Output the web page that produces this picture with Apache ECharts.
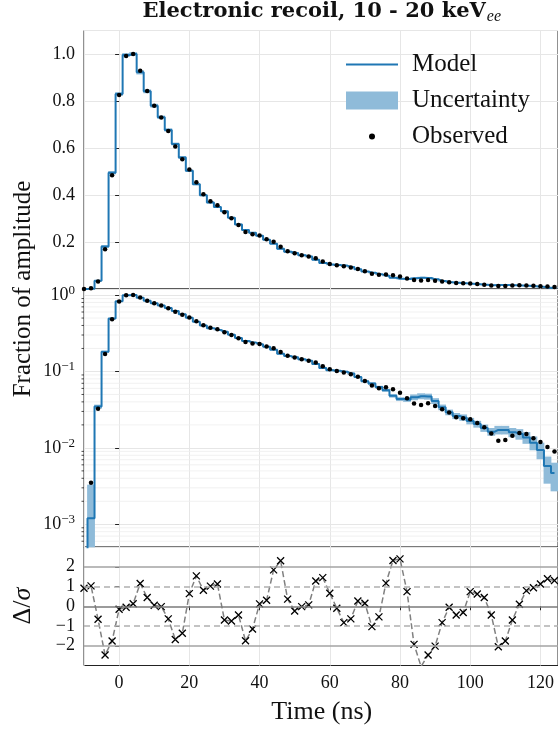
<!DOCTYPE html>
<html>
<head>
<meta charset="utf-8">
<script src="https://cdn.jsdelivr.net/npm/echarts@6/dist/echarts.min.js"></script>
<style>
  html, body { margin: 0; padding: 0; background: #fff; }
  #chart { width: 558px; height: 729px; }
</style>
</head>
<body>
<div id="chart"></div>
<script>
// Bin centres (ns); each bin is 2 ns wide
const binWidth = 2;
const times = [-10, -8, -6, -4, -2, 0, 2, 4, 6, 8, 10, 12, 14, 16, 18, 20, 22, 24, 26, 28,
  30, 32, 34, 36, 38, 40, 42, 44, 46, 48, 50, 52, 54, 56, 58, 60, 62, 64, 66, 68,
  70, 72, 74, 76, 78, 80, 82, 84, 86, 88, 90, 92, 94, 96, 98, 100, 102, 104, 106, 108,
  110, 112, 114, 116, 118, 120, 122, 124];

// Measured pulse shape (fraction of amplitude)
const observed = [0.0004, 0.0035, 0.0324, 0.169, 0.484, 0.826, 0.992, 1.0, 0.929, 0.843,
  0.780, 0.730, 0.672, 0.606, 0.552, 0.508, 0.454, 0.403, 0.373, 0.356,
  0.327, 0.301, 0.272, 0.243, 0.233, 0.228, 0.212, 0.201, 0.180, 0.161,
  0.152, 0.144, 0.1386, 0.1306, 0.117, 0.1067, 0.1015, 0.0966, 0.0918, 0.0855,
  0.0751, 0.0653, 0.0603, 0.0621, 0.0585, 0.0528, 0.0446, 0.038, 0.0365, 0.0384,
  0.0354, 0.032, 0.029, 0.0252, 0.0244, 0.0237, 0.0212, 0.0186, 0.0154, 0.0124,
  0.0127, 0.0144, 0.0157, 0.0152, 0.0134, 0.0119, 0.0103, 0.0090];

// Model prediction per bin
const model = [0.0002, 0.0012, 0.0347, 0.181, 0.495, 0.830, 0.996, 1.0, 0.922, 0.841,
  0.780, 0.731, 0.677, 0.617, 0.560, 0.503, 0.446, 0.399, 0.368, 0.349,
  0.331, 0.303, 0.275, 0.251, 0.239, 0.227, 0.210, 0.193, 0.171, 0.159,
  0.153, 0.144, 0.138, 0.125, 0.111, 0.104, 0.102, 0.0995, 0.094, 0.0845,
  0.0745, 0.0695, 0.0625, 0.0568, 0.0480, 0.0435, 0.0428, 0.0460, 0.0475, 0.0470,
  0.0410, 0.0340, 0.0292, 0.0262, 0.0250, 0.0225, 0.0205, 0.0182, 0.0163, 0.0172,
  0.0172, 0.0160, 0.0152, 0.0137, 0.0117, 0.0094, 0.0058, 0.0047];

// Model uncertainty band, lower and upper edge per bin
const bandLow = [0.00005, 0.0002, 0.0326, 0.1756, 0.488, 0.822, 0.988, 0.992, 0.913, 0.833,
  0.772, 0.724, 0.670, 0.611, 0.554, 0.498, 0.442, 0.395, 0.364, 0.345,
  0.328, 0.300, 0.272, 0.248, 0.236, 0.224, 0.208, 0.191, 0.167, 0.155,
  0.149, 0.140, 0.1345, 0.122, 0.108, 0.1013, 0.0994, 0.0970, 0.0915, 0.0822,
  0.0724, 0.0670, 0.0600, 0.0543, 0.0455, 0.0410, 0.0400, 0.0420, 0.0433, 0.0428,
  0.0375, 0.0311, 0.0267, 0.0238, 0.0226, 0.0203, 0.0184, 0.0162, 0.0144, 0.0150,
  0.0150, 0.0138, 0.0128, 0.0113, 0.0093, 0.0071, 0.0034, 0.0027];
const bandHigh = [0.0005, 0.0033, 0.0368, 0.1864, 0.502, 0.838, 1.004, 1.008, 0.931, 0.849,
  0.788, 0.738, 0.684, 0.623, 0.566, 0.508, 0.450, 0.403, 0.372, 0.353,
  0.334, 0.306, 0.278, 0.254, 0.242, 0.230, 0.212, 0.195, 0.175, 0.163,
  0.157, 0.148, 0.1415, 0.128, 0.114, 0.1067, 0.1046, 0.1020, 0.0965, 0.0868,
  0.0766, 0.0720, 0.0650, 0.0593, 0.0505, 0.0460, 0.0456, 0.0500, 0.0518, 0.0512,
  0.0447, 0.0369, 0.0317, 0.0286, 0.0274, 0.0247, 0.0226, 0.0202, 0.0182, 0.0194,
  0.0194, 0.0182, 0.0176, 0.0161, 0.0141, 0.0117, 0.0077, 0.0064];

// Normalised residuals (observed - model) / sigma
const residuals = [0.91, 1.03, -0.66, -2.47, -1.76, -0.15, -0.05, 0.13, 1.15, 0.44,
  0.05, -0.02, -0.64, -1.68, -1.37, 0.64, 1.54, 0.81, 1.02, 1.13,
  -0.70, -0.75, -0.44, -1.75, -1.15, 0.12, 0.30, 1.84, 2.30, 0.36,
  -0.24, -0.02, 0.07, 1.28, 1.45, 0.66, -0.10, -0.83, -0.64, 0.27,
  0.15, -1.03, -0.54, 1.17, 2.32, 2.40, 0.74, -1.93, -3.05, -2.47,
  -2.02, -0.83, -0.05, -0.44, -0.32, 0.74, 0.62, 0.44, -0.44, -2.05,
  -1.76, -0.70, 0.10, 0.79, 0.94, 1.13, 1.39, 1.30];

// Minor gridlines of the log panel
const logMinorLevels = [6e-4, 7e-4, 8e-4, 9e-4,
  2e-3, 3e-3, 4e-3, 5e-3, 6e-3, 7e-3, 8e-3, 9e-3,
  2e-2, 3e-2, 4e-2, 5e-2, 6e-2, 7e-2, 8e-2, 9e-2,
  0.2, 0.3, 0.4, 0.5, 0.6, 0.7, 0.8, 0.9];

// Reference levels in the residual panel
const sigmaSolid = [-2, 0, 2];
const sigmaDashed = [-1, 1];

const SERIF = '"Liberation Serif", "DejaVu Serif", serif';
const BLUE = '#1f77b4';
const BAND = '#8fbbd9';
const SPINE = '#222';
const GRID = '#e6e6e6';

const modelData = times.map((t, i) => [t, model[i]]);
const obsData = times.map((t, i) => [t, observed[i]]);
const bandData = times.map((t, i) => [t, bandLow[i], bandHigh[i]]);
const resData = times.map((t, i) => [t, residuals[i]]);

function bandRender(params, api) {
  const t = api.value(0);
  const p1 = api.coord([t - binWidth / 2, api.value(2)]);
  const p2 = api.coord([t + binWidth / 2, api.value(1)]);
  const cs = params.coordSys;
  const r = echarts.graphic.clipRectByRect(
    { x: p1[0] - 0.4, y: p1[1], width: p2[0] - p1[0] + 0.8, height: p2[1] - p1[1] },
    { x: cs.x, y: cs.y, width: cs.width, height: cs.height });
  if (!r) return null;
  return { type: 'rect', shape: r, style: { fill: BAND } };
}

function minorRender(params, api) {
  const y = api.coord([0, api.value(0)])[1];
  const cs = params.coordSys;
  return {
    type: 'group',
    children: [
      { type: 'line', shape: { x1: cs.x, y1: y, x2: cs.x + cs.width, y2: y },
        style: { stroke: '#ededed', lineWidth: 0.8 } },
      { type: 'line', shape: { x1: cs.x - 2.5, y1: y, x2: cs.x, y2: y },
        style: { stroke: SPINE, lineWidth: 0.8 } }
    ]
  };
}

const minus = v => String(v).replace('-', '\u2212');

const plotLeft = 84, plotWidth = 475.6;
const xBase = {
  type: 'value', min: -10, max: 125, splitNumber: 7,
  axisLine: { show: false },
  axisTick: { show: false },
  axisLabel: { show: false },
  splitLine: { show: true, lineStyle: { color: GRID, width: 1 } }
};
const yTick = { show: true, inside: false, length: 4, lineStyle: { color: SPINE, width: 1 } };
const tickFont = { fontFamily: SERIF, fontSize: 18, color: '#111' };

const chart = echarts.init(document.getElementById('chart'), null, { renderer: 'canvas' });
chart.setOption({
  animation: false,
  backgroundColor: '#fff',
  grid: [
    { left: plotLeft, top: 30.5, width: plotWidth, height: 258.5, show: true, borderColor: SPINE, borderWidth: 1, backgroundColor: 'transparent' },
    { left: plotLeft, top: 289, width: plotWidth, height: 258.3, show: true, borderColor: SPINE, borderWidth: 1, backgroundColor: 'transparent' },
    { left: plotLeft, top: 547, width: plotWidth, height: 118.5, show: true, borderColor: SPINE, borderWidth: 1, backgroundColor: 'transparent' }
  ],
  xAxis: [
    Object.assign({ gridIndex: 0 }, xBase),
    Object.assign({ gridIndex: 1 }, xBase),
    Object.assign({ gridIndex: 2 }, xBase, {
      axisTick: { show: true, inside: false, length: 4, lineStyle: { color: SPINE, width: 1 } },
      axisLabel: Object.assign({ show: true, margin: 9, showMinLabel: false, showMaxLabel: false }, tickFont)
    })
  ],
  yAxis: [
    {
      gridIndex: 0, type: 'value', min: 0, max: 1.1, interval: 0.2,
      axisLine: { show: false }, axisTick: yTick,
      axisLabel: Object.assign({ margin: 9, showMinLabel: false, showMaxLabel: false,
        formatter: v => v.toFixed(1) }, tickFont),
      splitLine: { show: true, lineStyle: { color: GRID, width: 1 } }
    },
    {
      gridIndex: 1, type: 'log', logBase: 10, min: 5e-4, max: 1.2,
      axisLine: { show: false }, axisTick: yTick,
      axisLabel: {
        margin: 9, showMinLabel: false, showMaxLabel: false,
        formatter: v => {
          const e = Math.round(Math.log10(v));
          return '{b|10}{s|' + minus(e) + '}';
        },
        rich: {
          b: { fontFamily: SERIF, fontSize: 18, color: '#111' },
          s: { fontFamily: SERIF, fontSize: 13, color: '#111', verticalAlign: 'top', padding: [0, 0, 9, 0] }
        }
      },
      splitLine: { show: true, lineStyle: { color: GRID, width: 1 } }
    },
    {
      gridIndex: 2, type: 'value', min: -3, max: 3, interval: 1,
      axisLine: { show: false }, axisTick: yTick,
      axisLabel: Object.assign({ margin: 9, showMinLabel: false, showMaxLabel: false,
        formatter: v => minus(v) }, tickFont),
      splitLine: { show: false }
    }
  ],
  legend: {
    orient: 'vertical', left: 341, top: 47,
    itemWidth: 52, itemHeight: 18, itemGap: 11,
    textStyle: { fontFamily: SERIF, fontSize: 25, color: '#111', padding: [0, 0, 0, 9] },
    data: [
      { name: 'Model', icon: 'path://M0,0M52,0M52,18M0,18M0,8h52v2h-52Z' },
      { name: 'Uncertainty', icon: 'rect' },
      { name: 'Observed', icon: 'path://M0,0M52,0M52,18M0,18M23,9a3,3 0 1,0 6,0a3,3 0 1,0 -6,0Z' }
    ]
  },
  graphic: [
    {
      type: 'text', x: 321.8, y: 12, z: 10,
      style: {
        text: '{b|Electronic recoil, 10 - 20 keV}{s|ee}',
        align: 'center', verticalAlign: 'middle',
        rich: {
          b: { fontFamily: '"DejaVu Serif", serif', fontWeight: 'bold', fontSize: 21, fill: '#111' },
          s: { fontFamily: SERIF, fontStyle: 'italic', fontSize: 16, fill: '#111', padding: [10, 0, 0, 1] }
        }
      }
    },
    {
      type: 'text', x: 23, y: 289, rotation: Math.PI / 2, z: 10,
      style: { text: 'Fraction of amplitude', fontFamily: SERIF, fontSize: 25, fill: '#111',
        align: 'center', verticalAlign: 'middle' }
    },
    {
      type: 'text', x: 23, y: 606, rotation: Math.PI / 2, z: 10,
      style: {
        text: '{a|\u0394/}{b|\u03c3}', align: 'center', verticalAlign: 'middle',
        rich: {
          a: { fontFamily: SERIF, fontSize: 26, fill: '#111' },
          b: { fontFamily: SERIF, fontStyle: 'italic', fontSize: 26, fill: '#111' }
        }
      }
    },
    {
      type: 'text', x: 321.8, y: 712, z: 10,
      style: { text: 'Time (ns)', fontFamily: SERIF, fontSize: 26, fill: '#111',
        align: 'center', verticalAlign: 'middle' }
    }
  ],
  series: [
    // linear panel
    { name: 'Uncertainty', type: 'custom', xAxisIndex: 0, yAxisIndex: 0, z: 2,
      itemStyle: { color: BAND }, renderItem: bandRender, data: bandData, silent: true },
    { name: 'Model', type: 'line', xAxisIndex: 0, yAxisIndex: 0, z: 3, step: 'middle',
      data: modelData, symbol: 'none', lineStyle: { color: BLUE, width: 2 }, itemStyle: { color: BLUE } },
    { name: 'Observed', type: 'scatter', xAxisIndex: 0, yAxisIndex: 0, z: 4,
      data: obsData, symbol: 'circle', symbolSize: 4.5, itemStyle: { color: '#000', opacity: 1 } },
    // log panel
    { name: 'logMinor', type: 'custom', xAxisIndex: 1, yAxisIndex: 1, z: 1, silent: true,
      renderItem: minorRender, data: logMinorLevels.map(v => [v]), encode: { y: 0 }, clip: false },
    { name: 'Uncertainty', type: 'custom', xAxisIndex: 1, yAxisIndex: 1, z: 2,
      itemStyle: { color: BAND }, renderItem: bandRender, data: bandData, silent: true },
    { name: 'Model', type: 'line', xAxisIndex: 1, yAxisIndex: 1, z: 3, step: 'middle',
      data: modelData, symbol: 'none', lineStyle: { color: BLUE, width: 2 }, itemStyle: { color: BLUE } },
    { name: 'Observed', type: 'scatter', xAxisIndex: 1, yAxisIndex: 1, z: 4,
      data: obsData, symbol: 'circle', symbolSize: 4.5, itemStyle: { color: '#000', opacity: 1 } },
    // residual panel
    { name: 'Residual', type: 'line', xAxisIndex: 2, yAxisIndex: 2, z: 3,
      data: resData, showAllSymbol: true,
      symbol: 'path://M0,0L10,10M10,0L0,10', symbolSize: 7, symbolKeepAspect: true,
      itemStyle: { color: '#000', borderColor: '#000', borderWidth: 1.3 },
      lineStyle: { color: '#808080', width: 1.5, type: [6, 3] },
      markLine: {
        silent: true, symbol: 'none', label: { show: false }, animation: false,
        data: sigmaSolid.map(v => ({ yAxis: v, lineStyle: { color: v === 0 ? '#7a7a7a' : '#a3a3a3', width: 1.5, type: 'solid' } }))
          .concat(sigmaDashed.map(v => ({ yAxis: v, lineStyle: { color: '#b0b0b0', width: 1.5, type: [6, 4] } })))
      }
    }
  ]
});
</script>
</body>
</html>
